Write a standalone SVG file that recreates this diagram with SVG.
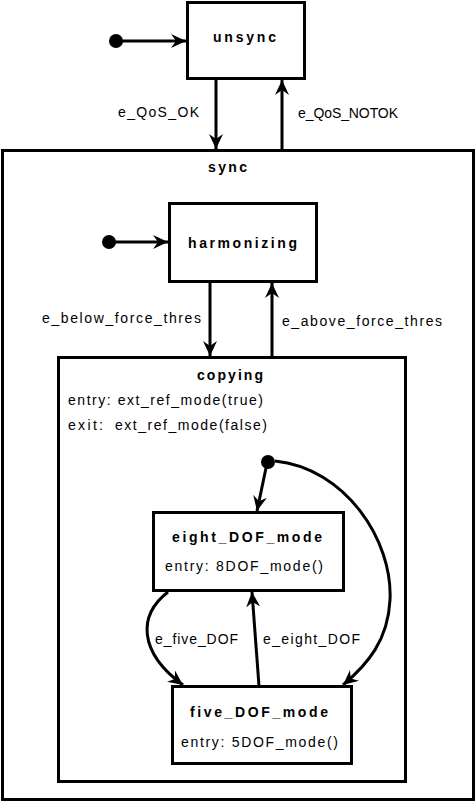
<svg xmlns="http://www.w3.org/2000/svg" width="476" height="802" viewBox="0 0 476 802">
<defs>
<marker id="ah" markerWidth="16" markerHeight="14" refX="15" refY="7" orient="auto" markerUnits="userSpaceOnUse">
<path d="M0,0 L15,7 L0,14 L5,7 Z" fill="#000"/>
</marker>
<style>
.box{fill:#fff;stroke:#000;stroke-width:3}
.t{font-family:"Liberation Sans",Arial,sans-serif;font-size:14px;fill:#000}
.b{font-family:"Liberation Sans",Arial,sans-serif;font-size:14px;font-weight:bold;fill:#000}
.e{fill:none;stroke:#000;stroke-width:3;marker-end:url(#ah)}
.dot{fill:#000}
</style>
</defs>
<rect width="476" height="802" fill="#fff"/>
<g id="unsync">
<rect class="box" x="187.5" y="2.5" width="117" height="76"/>
<text class="b" x="213" y="42" textLength="63" lengthAdjust="spacing">unsync</text>
</g>
<g id="sync">
<rect class="box" x="2.5" y="150.5" width="471" height="649"/>
<text class="b" x="208" y="172" textLength="39" lengthAdjust="spacing">sync</text>
</g>
<g id="harmonizing">
<rect class="box" x="169.5" y="203.5" width="147" height="78"/>
<text class="b" x="188" y="248" textLength="109" lengthAdjust="spacing">harmonizing</text>
</g>
<g id="copying">
<rect class="box" x="58.5" y="357.5" width="347" height="424"/>
<text class="b" x="197" y="380" textLength="66" lengthAdjust="spacing">copying</text>
<text class="t" x="68" y="405" textLength="195" lengthAdjust="spacing">entry: ext_ref_mode(true)</text>
<text class="t" y="430"><tspan x="68" textLength="35" lengthAdjust="spacing">exit:</tspan><tspan x="115" textLength="152" lengthAdjust="spacing">ext_ref_mode(false)</tspan></text>
</g>
<g id="eight_DOF_mode">
<rect class="box" x="153.5" y="512.5" width="190" height="78"/>
<text class="b" x="172" y="542" textLength="150" lengthAdjust="spacing">eight_DOF_mode</text>
<text class="t" x="165" y="571" textLength="158" lengthAdjust="spacing">entry: 8DOF_mode()</text>
</g>
<g id="five_DOF_mode">
<rect class="box" x="172.5" y="686.5" width="179" height="77"/>
<text class="b" x="190" y="717" textLength="138" lengthAdjust="spacing">five_DOF_mode</text>
<text class="t" x="181" y="747" textLength="157" lengthAdjust="spacing">entry: 5DOF_mode()</text>
</g>
<g id="initials">
<circle class="dot" cx="116" cy="41" r="7"/>
<circle class="dot" cx="109" cy="242" r="7"/>
<circle class="dot" cx="268" cy="462" r="7"/>
</g>
<g id="connectors">
<path class="e" d="M122,41 L186,41"/>
<path class="e" d="M216,79 L216,149"/>
<path class="e" d="M282,150 L282,80"/>
<path class="e" d="M115,242 L168,242"/>
<path class="e" d="M210,282 L210,356"/>
<path class="e" d="M272,357 L272,283"/>
<path class="e" d="M266,468 L257,511"/>
<path class="e" d="M275,461 C345,468 393,540 390,600 C388,640 368,664 343,685"/>
<path class="e" d="M168,592 C138,615 138,652 183,685"/>
<path class="e" d="M259,686 L252,592"/>
<text class="t" x="118" y="117" textLength="81" lengthAdjust="spacing">e_QoS_OK</text>
<text class="t" x="298" y="118" textLength="100" lengthAdjust="spacing">e_QoS_NOTOK</text>
<text class="t" x="42" y="323" textLength="159" lengthAdjust="spacing">e_below_force_thres</text>
<text class="t" x="282" y="326" textLength="160" lengthAdjust="spacing">e_above_force_thres</text>
<text class="t" x="155" y="644" textLength="83" lengthAdjust="spacing">e_five_DOF</text>
<text class="t" x="263" y="644" textLength="97" lengthAdjust="spacing">e_eight_DOF</text>
</g>
</svg>
